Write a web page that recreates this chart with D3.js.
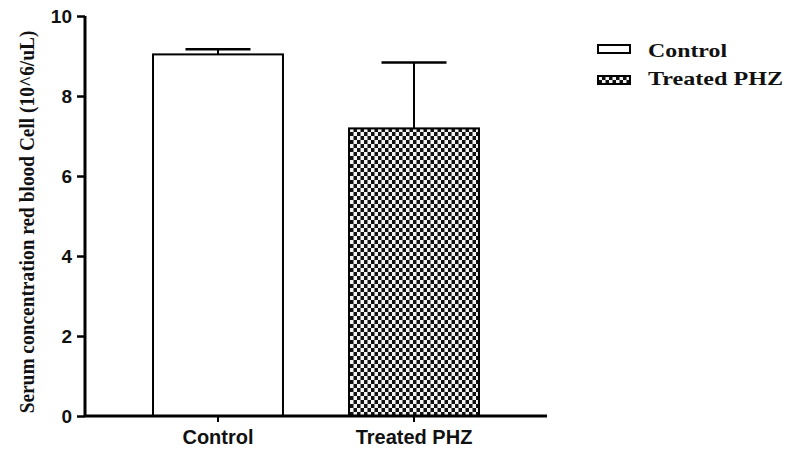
<!DOCTYPE html>
<html>
<head>
<meta charset="utf-8">
<script src="https://cdn.jsdelivr.net/npm/d3@7"></script>
<style>
  html, body { margin: 0; padding: 0; background: #fff; }
  svg { display: block; }
</style>
</head>
<body>
<svg id="chart" width="791" height="450"></svg>
<script>
// ---- data ----
const categories = ["Control", "Treated PHZ"];
const means = [9.04, 7.19];
const errors = [0.13, 1.65];
const yTicks = [0, 2, 4, 6, 8, 10];
const yLabel = "Serum concentration red blood Cell (10^6/uL)";
const legendLabels = ["Control", "Treated PHZ"];

const svg = d3.select("#chart");

// pattern
const defs = svg.append("defs");
const pat = defs.append("pattern")
  .attr("id", "checker")
  .attr("patternUnits", "userSpaceOnUse")
  .attr("width", 7).attr("height", 8);
pat.append("rect").attr("width", 7).attr("height", 8).attr("fill", "#111");
pat.append("rect").attr("x", 0).attr("y", 0).attr("width", 3.5).attr("height", 4).attr("fill", "#f4f4f4");
pat.append("rect").attr("x", 3.5).attr("y", 4).attr("width", 3.5).attr("height", 4).attr("fill", "#f4f4f4");

const fills = ["#ffffff", "url(#checker)"];

const x = d3.scaleBand()
  .domain(categories)
  .range([85, 547])
  .paddingInner(0.337)
  .paddingOuter(0.347);

const y = d3.scaleLinear().domain([0, 10]).range([416, 16]);

// bars
const g = svg.append("g");
g.selectAll("rect.bar")
  .data(categories)
  .join("rect")
  .attr("class", "bar")
  .attr("x", d => x(d))
  .attr("y", (d, i) => y(means[i]))
  .attr("width", x.bandwidth())
  .attr("height", (d, i) => y(0) - y(means[i]))
  .attr("fill", (d, i) => fills[i])
  .attr("stroke", "#000")
  .attr("stroke-width", 2);

// error bars
const capHalf = x.bandwidth() / 4;
categories.forEach((c, i) => {
  const cx = x(c) + x.bandwidth() / 2;
  g.append("line")
    .attr("x1", cx).attr("x2", cx)
    .attr("y1", y(means[i])).attr("y2", y(means[i] + errors[i]))
    .attr("stroke", "#000").attr("stroke-width", 2);
  g.append("line")
    .attr("x1", cx - capHalf).attr("x2", cx + capHalf)
    .attr("y1", y(means[i] + errors[i])).attr("y2", y(means[i] + errors[i]))
    .attr("stroke", "#000").attr("stroke-width", 2.5);
});

// y axis
const yAxis = svg.append("g")
  .attr("transform", "translate(85,0)")
  .call(d3.axisLeft(y).tickValues(yTicks).tickSize(8).tickPadding(5));
yAxis.select(".domain").attr("stroke-width", 3).attr("d", `M0,${y(10)}V${y(0)}`);
yAxis.selectAll(".tick line").attr("stroke-width", 2.5);
yAxis.selectAll("text")
  .attr("font-family", "Liberation Sans, Arial, sans-serif")
  .attr("font-weight", "bold")
  .attr("font-size", 19)
  .attr("fill", "#111");

// x axis
const xAxis = svg.append("g")
  .attr("transform", `translate(0,${y(0)})`)
  .call(d3.axisBottom(x).tickSize(6).tickPadding(8));
xAxis.select(".domain").attr("stroke-width", 3).attr("d", `M${85},0H547`);
xAxis.selectAll(".tick line").attr("stroke-width", 2);
xAxis.selectAll("text")
  .attr("font-family", "Liberation Sans, Arial, sans-serif")
  .attr("font-weight", "bold")
  .attr("font-size", 20)
  .attr("fill", "#111");

// y label (condensed horizontally via scale)
const yl = svg.append("text")
  .attr("text-anchor", "middle")
  .attr("font-family", "Liberation Serif, Times New Roman, serif")
  .attr("font-weight", "bold")
  .attr("font-size", 22)
  .attr("fill", "#111")
  .text(yLabel);
const natural = yl.node().getComputedTextLength();
const sx = Math.min(1, 383 / natural);
yl.attr("transform", `translate(34,222) rotate(-90) scale(${sx},1)`);

// legend
const legend = svg.append("g");
const legY = [45, 76];
const legBaseline = [57, 85];
const legLen = [79, 135];
legendLabels.forEach((lab, i) => {
  legend.append("rect")
    .attr("x", 598).attr("y", legY[i])
    .attr("width", 32).attr("height", 8)
    .attr("fill", fills[i])
    .attr("stroke", "#000").attr("stroke-width", 2);
  legend.append("text")
    .attr("x", 648).attr("y", legBaseline[i])
    .attr("font-family", "Liberation Serif, Times New Roman, serif")
    .attr("font-weight", "bold")
    .attr("font-size", 19)
    .attr("textLength", legLen[i])
    .attr("lengthAdjust", "spacingAndGlyphs")
    .attr("fill", "#111")
    .text(lab);
});
</script>
</body>
</html>
